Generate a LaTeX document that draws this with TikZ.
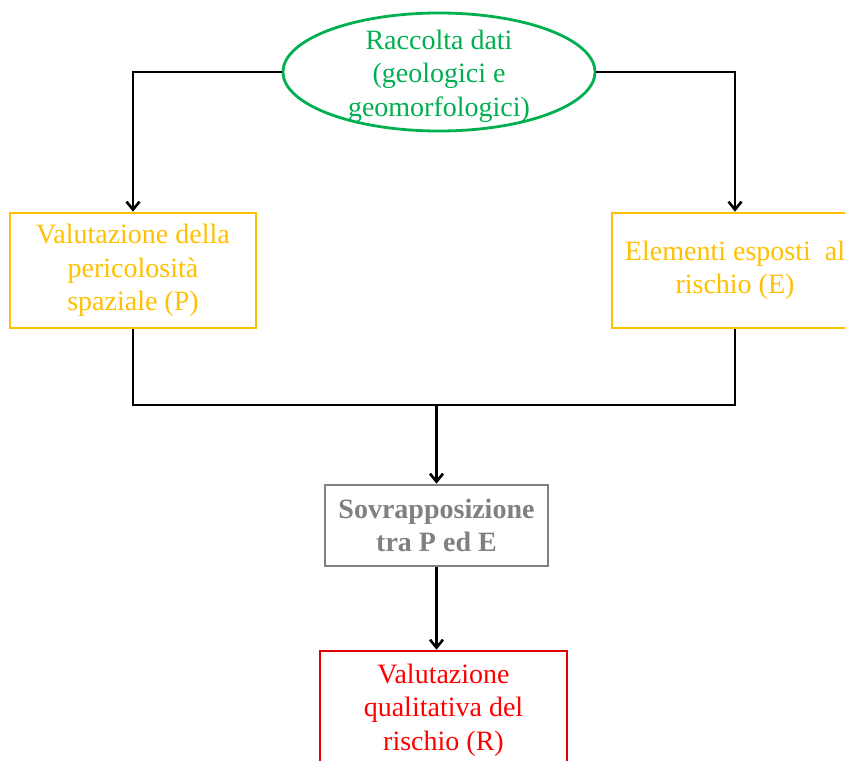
\documentclass[tikz,border=0pt]{standalone}
\usepackage{fontspec}
\setmainfont{Liberation Serif}
\usetikzlibrary{shapes.geometric,arrows.meta}
\definecolor{cgreen}{HTML}{00B050}
\definecolor{cyellow}{HTML}{FFC000}
\definecolor{cgray}{HTML}{808080}
\definecolor{cred}{HTML}{FF0000}
\definecolor{credb}{HTML}{E00000}
\tikzset{
  txt/.style={font=\fontsize{28}{33.5}\selectfont, align=center, inner sep=0pt},
  boxy/.style={draw=cyellow, line width=2.6pt, text=cyellow, minimum width=246pt, minimum height=115pt, txt},
  boxg/.style={draw=cgray, line width=2.6pt, text=cgray, minimum width=223pt, minimum height=81pt, txt, font=\fontsize{28}{33.5}\selectfont\bfseries},
  boxr/.style={draw=credb, line width=2.6pt, text=cred, minimum width=247pt, minimum height=118pt, txt},
  conn/.style={line width=2.6pt, black},
  arr/.style={conn, -{Straight Barb[length=8pt,width=13pt]}}
}
\begin{document}
\begin{tikzpicture}[x=1pt,y=-1pt]
\useasboundingbox (0,0) rectangle (845,760);
\fill[white] (0,0) rectangle (845,760);
\node[ellipse, draw=cgreen, line width=2.8pt, minimum width=312pt, minimum height=118pt, inner sep=0pt] (rac) at (439,72) {};
\node[txt, text=cgreen] (ract) at (439,76) {Raccolta dati\\(geologici e\\geomorfologici)};
\node[boxy] (pl) at (133,270.5) {Valutazione della\\pericolosità\\spaziale (P)};
\node[boxy] (el) at (735,270.5) {Elementi esposti~\ al\\rischio (E)};
\node[boxg] (sov) at (436.5,525.5) {Sovrapposizione\\tra P ed E};
\node[boxr] (val) at (443.5,710) {Valutazione\\qualitativa del\\rischio (R)};
\coordinate (j) at (436.5,405);
\draw[arr] (rac.west) -| (pl.north);
\draw[arr] (rac.east) -| (el.north);
\draw[conn] (pl.south) |- (j);
\draw[conn] (el.south) |- (j);
\draw[arr] (j) -- (sov.north);
\draw[arr] (sov.south) -- (sov.south |- val.north);
\end{tikzpicture}
\end{document}
